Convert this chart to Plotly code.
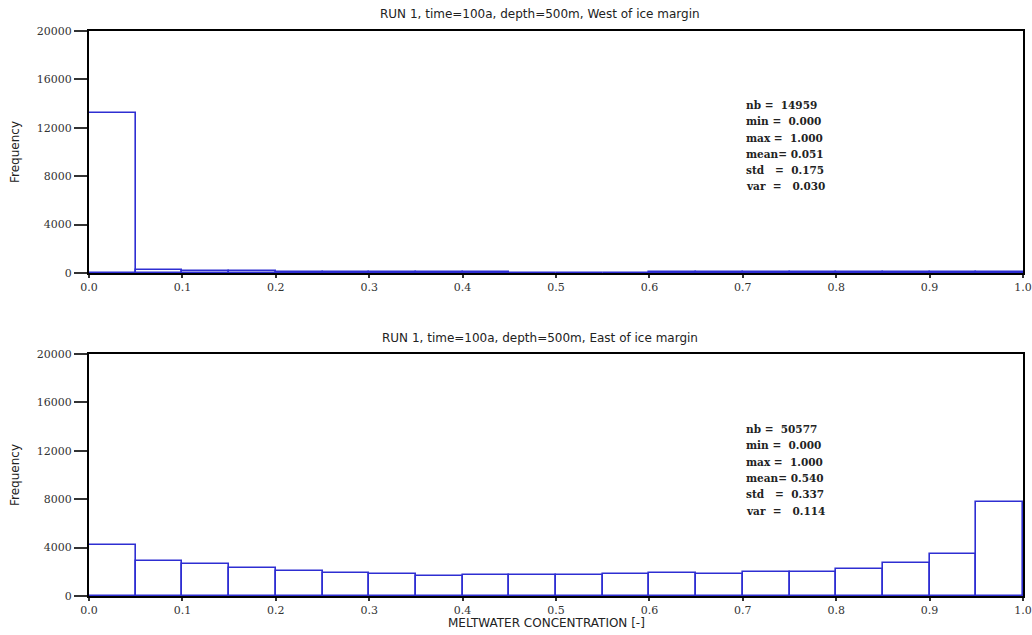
import plotly.graph_objects as go

# Histogram bins of meltwater concentration (lower edge of each 0.05-wide bin)
bin_start = [0.00, 0.05, 0.10, 0.15, 0.20, 0.25, 0.30, 0.35, 0.40, 0.45,
             0.50, 0.55, 0.60, 0.65, 0.70, 0.75, 0.80, 0.85, 0.90, 0.95]
bin_width = 0.05

# Frequencies per bin
west_counts = [13230, 260, 190, 170, 120, 110, 60, 50, 45, 40,
               40, 40, 45, 110, 110, 50, 45, 45, 100, 110]
east_counts = [4190, 2920, 2640, 2290, 2090, 1925, 1820, 1680, 1735, 1735,
               1735, 1820, 1900, 1820, 2010, 2010, 2230, 2700, 3490, 7740]

titles = ["RUN 1, time=100a, depth=500m, West of ice margin",
          "RUN 1, time=100a, depth=500m, East of ice margin"]

stat_names = ["nb =\u00a0\u00a0", "min =\u00a0\u00a0", "max =\u00a0\u00a0",
              "mean=\u00a0", "std\u00a0\u00a0\u00a0=\u00a0\u00a0", "var\u00a0\u00a0=\u00a0\u00a0\u00a0"]
west_stats = ["14959", "0.000", "1.000", "0.051", "0.175", "0.030"]
east_stats = ["50577", "0.000", "1.000", "0.540", "0.337", "0.114"]

x_ticks = [0.0, 0.1, 0.2, 0.3, 0.4, 0.5, 0.6, 0.7, 0.8, 0.9, 1.0]
y_ticks = [0, 4000, 8000, 12000, 16000, 20000]

W, H = 1032, 635
ML, MR, MT, MB = 89, 9, 31, 39
plot_h = H - MT - MB
top_dom = [(596 - 273) / plot_h, 1.0]
bot_dom = [0.0, (596 - 354) / plot_h]

bar_color = "#2e2ed2"
tick_font = dict(family="DejaVu Serif", size=11, color="#333333")

fig = go.Figure()
centers = [s + bin_width / 2 for s in bin_start]
for counts, xa, ya in [(west_counts, "x", "y"), (east_counts, "x2", "y2")]:
    fig.add_trace(go.Bar(
        x=centers, y=counts, width=bin_width, xaxis=xa, yaxis=ya,
        marker=dict(color="rgba(0,0,0,0)", line=dict(color=bar_color, width=1.6)),
        showlegend=False, hoverinfo="x+y",
    ))

axis_common = dict(showline=True, mirror=True, linecolor="black", linewidth=2,
                   showgrid=False, zeroline=False, ticks="outside", automargin=False,
                   tickcolor="#333333", tickfont=tick_font)

xcommon = dict(axis_common, range=[0, 1], tickvals=x_ticks,
               ticktext=[f"{v:.1f}" for v in x_ticks], ticklen=3, tickwidth=1.5)
ycommon = dict(axis_common, range=[0, 20000], tickvals=y_ticks,
               ticktext=[str(v) for v in y_ticks], ticklen=13, tickwidth=2)

fig.update_layout(
    width=W, height=H,
    margin=dict(l=ML, r=MR, t=MT, b=MB),
    paper_bgcolor="white", plot_bgcolor="white",
    bargap=0,
    xaxis=dict(xcommon, domain=[0, 1], anchor="y"),
    yaxis=dict(ycommon, domain=top_dom, anchor="x"),
    xaxis2=dict(xcommon, domain=[0, 1], anchor="y2"),
    yaxis2=dict(ycommon, domain=bot_dom, anchor="x2"),
)

def px_x(p):
    return (p - ML) / (W - ML - MR)

def px_y(p):
    return (H - MB - p) / plot_h

annotations = []
title_font = dict(family="DejaVu Sans", size=12, color="#222222")
for title, ypx in zip(titles, [14, 338]):
    annotations.append(dict(text=title, x=px_x(540), y=px_y(ypx), xref="paper", yref="paper",
                            xanchor="center", yanchor="middle", showarrow=False, font=title_font))

for ycenter in [152, 475]:
    annotations.append(dict(text="Frequency", x=px_x(15), y=px_y(ycenter), xref="paper", yref="paper",
                            xanchor="center", yanchor="middle", textangle=-90, showarrow=False,
                            font=title_font))

annotations.append(dict(text="MELTWATER CONCENTRATION [-]", x=px_x(546), y=px_y(623),
                        xref="paper", yref="paper", xanchor="center", yanchor="middle",
                        showarrow=False, font=title_font))

stat_font = dict(family="DejaVu Serif", size=10.5, color="#222222")
for vals, y0 in [(west_stats, 105), (east_stats, 429)]:
    for i, (name, val) in enumerate(zip(stat_names, vals)):
        annotations.append(dict(text=f"<b>{name}{val}</b>", x=px_x(744), y=px_y(y0 + i * 16.3),
                                xref="paper", yref="paper", xanchor="left", yanchor="middle",
                                showarrow=False, font=stat_font))

fig.update_layout(annotations=annotations)
fig.write_html("out.html")
